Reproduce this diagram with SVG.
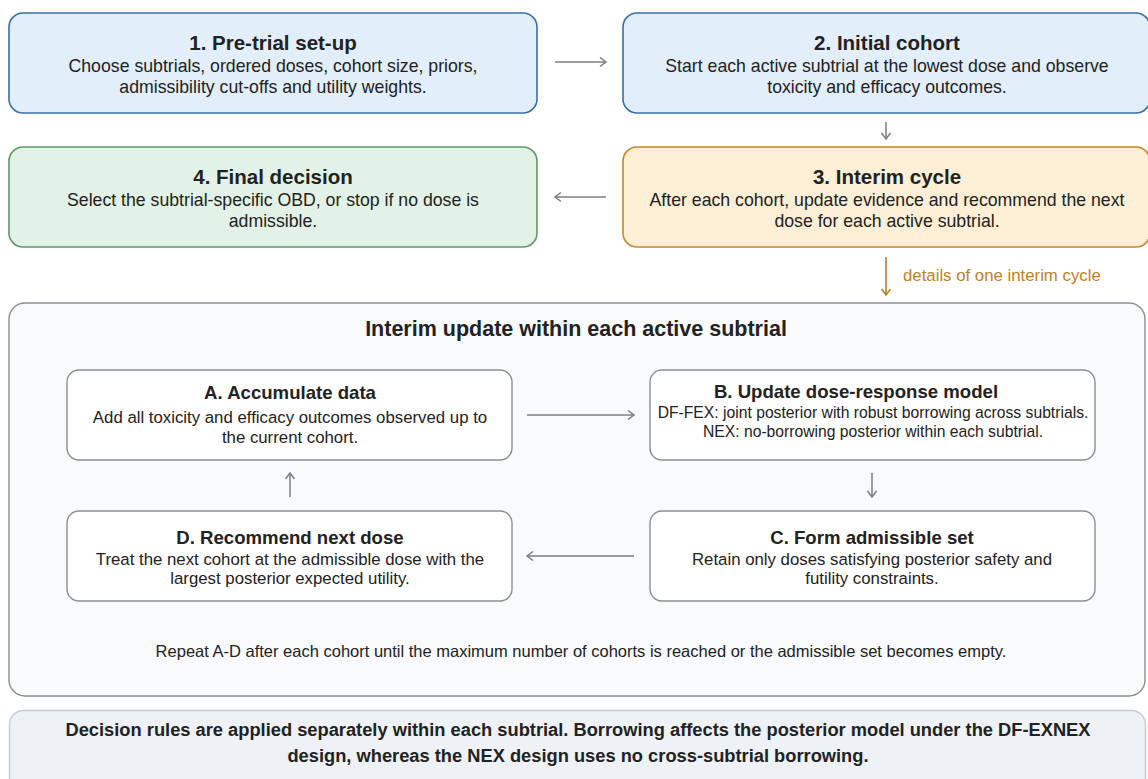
<svg xmlns="http://www.w3.org/2000/svg" width="1148" height="779" viewBox="0 0 1148 779">
<style>
text{font-family:"Liberation Sans",Arial,sans-serif;fill:#222;text-anchor:middle}
.t{font-size:20.5px;font-weight:bold}
.ct{font-size:21.5px;font-weight:bold}
.b{font-size:17.7px}
.it{font-size:18.6px;font-weight:bold}
.ib{font-size:16.8px}
.sb{font-size:15.7px}
.rp{font-size:16.5px}
.nt{font-size:18.3px;font-weight:bold}
.blue{fill:#e2eefa;stroke:#3a6fa6;stroke-width:1.6}
.green{fill:#e3f2e6;stroke:#5b9a67;stroke-width:1.6}
.orange{fill:#fdefd5;stroke:#c8862a;stroke-width:1.6}
.inner{fill:#fff;stroke:#8a8e94;stroke-width:1.4}
.cont{fill:#f8fafc;stroke:#8a8e94;stroke-width:1.4}
.note{fill:#eef2f6;stroke:#c5ccd4;stroke-width:1.4}
.c{fill:none;stroke:#7a7e85;stroke-width:1.5}
.co{fill:none;stroke:#c07f1f;stroke-width:1.6}
</style>
<defs>
<marker id="ah" markerUnits="userSpaceOnUse" markerWidth="12" markerHeight="12" refX="8" refY="6" orient="auto">
<path d="M2,1.5 L8,6 L2,10.5" fill="none" stroke="#7a7e85" stroke-width="1.5"/>
</marker>
<marker id="aho" markerUnits="userSpaceOnUse" markerWidth="12" markerHeight="12" refX="8" refY="6" orient="auto">
<path d="M2,1.5 L8,6 L2,10.5" fill="none" stroke="#c07f1f" stroke-width="1.6"/>
</marker>
</defs>
<rect width="1148" height="779" fill="#fff"/>

<g id="n1">
<rect class="blue" x="9" y="13" width="528" height="100" rx="14"/>
<text class="t" x="273" y="50">1. Pre-trial set-up</text>
<text class="b" x="273" y="72">Choose subtrials, ordered doses, cohort size, priors,</text>
<text class="b" x="273" y="93">admissibility cut-offs and utility weights.</text>
</g>
<g id="n2">
<rect class="blue" x="623" y="13" width="527" height="100" rx="14"/>
<text class="t" x="887" y="50">2. Initial cohort</text>
<text class="b" x="887" y="72">Start each active subtrial at the lowest dose and observe</text>
<text class="b" x="887" y="93">toxicity and efficacy outcomes.</text>
</g>
<g id="n4">
<rect class="green" x="9" y="147" width="528" height="100" rx="14"/>
<text class="t" x="273" y="184">4. Final decision</text>
<text class="b" x="273" y="206">Select the subtrial-specific OBD, or stop if no dose is</text>
<text class="b" x="273" y="227">admissible.</text>
</g>
<g id="n3">
<rect class="orange" x="623" y="147" width="527" height="100" rx="14"/>
<text class="t" x="887" y="184">3. Interim cycle</text>
<text class="b" x="887" y="206">After each cohort, update evidence and recommend the next</text>
<text class="b" x="887" y="227">dose for each active subtrial.</text>
</g>

<g id="container">
<rect class="cont" x="9" y="303" width="1136" height="393" rx="16"/>
<text class="ct" x="576" y="336">Interim update within each active subtrial</text>
<text class="rp" x="581" y="657">Repeat A-D after each cohort until the maximum number of cohorts is reached or the admissible set becomes empty.</text>
</g>
<g id="nA">
<rect class="inner" x="67" y="370" width="445" height="90" rx="12"/>
<text class="it" x="290" y="399">A. Accumulate data</text>
<text class="ib" x="290" y="423">Add all toxicity and efficacy outcomes observed up to</text>
<text class="ib" x="290" y="443">the current cohort.</text>
</g>
<g id="nB">
<rect class="inner" x="650" y="370" width="445" height="90" rx="12"/>
<text class="it" x="856" y="398">B. Update dose-response model</text>
<text class="sb" x="873" y="418">DF-FEX: joint posterior with robust borrowing across subtrials.</text>
<text class="sb" x="873" y="437">NEX: no-borrowing posterior within each subtrial.</text>
</g>
<g id="nC">
<rect class="inner" x="650" y="511" width="445" height="90" rx="12"/>
<text class="it" x="872" y="544">C. Form admissible set</text>
<text class="ib" x="872" y="565">Retain only doses satisfying posterior safety and</text>
<text class="ib" x="872" y="584">futility constraints.</text>
</g>
<g id="nD">
<rect class="inner" x="67" y="511" width="445" height="90" rx="12"/>
<text class="it" x="290" y="544">D. Recommend next dose</text>
<text class="ib" x="290" y="565">Treat the next cohort at the admissible dose with the</text>
<text class="ib" x="290" y="584">largest posterior expected utility.</text>
</g>

<g id="note">
<rect class="note" x="9.5" y="710.5" width="1136" height="90" rx="14"/>
<text class="nt" x="578" y="736">Decision rules are applied separately within each subtrial. Borrowing affects the posterior model under the DF-EXNEX</text>
<text class="nt" x="578" y="762">design, whereas the NEX design uses no cross-subtrial borrowing.</text>
</g>

<g id="connectors">
<line class="c" x1="555" y1="62" x2="606" y2="62" marker-end="url(#ah)"/>
<line class="c" x1="886" y1="122" x2="886" y2="139" marker-end="url(#ah)"/>
<line class="c" x1="606" y1="197" x2="555" y2="197" marker-end="url(#ah)"/>
<line class="co" x1="886" y1="257" x2="886" y2="295" marker-end="url(#aho)"/>
<text x="903" y="281" style="font-size:16.8px;fill:#c07f1f;text-anchor:start">details of one interim cycle</text>
<line class="c" x1="527" y1="415" x2="634" y2="415" marker-end="url(#ah)"/>
<line class="c" x1="872" y1="473" x2="872" y2="497" marker-end="url(#ah)"/>
<line class="c" x1="634" y1="556" x2="527" y2="556" marker-end="url(#ah)"/>
<line class="c" x1="290" y1="497" x2="290" y2="473" marker-end="url(#ah)"/>
</g>
</svg>
